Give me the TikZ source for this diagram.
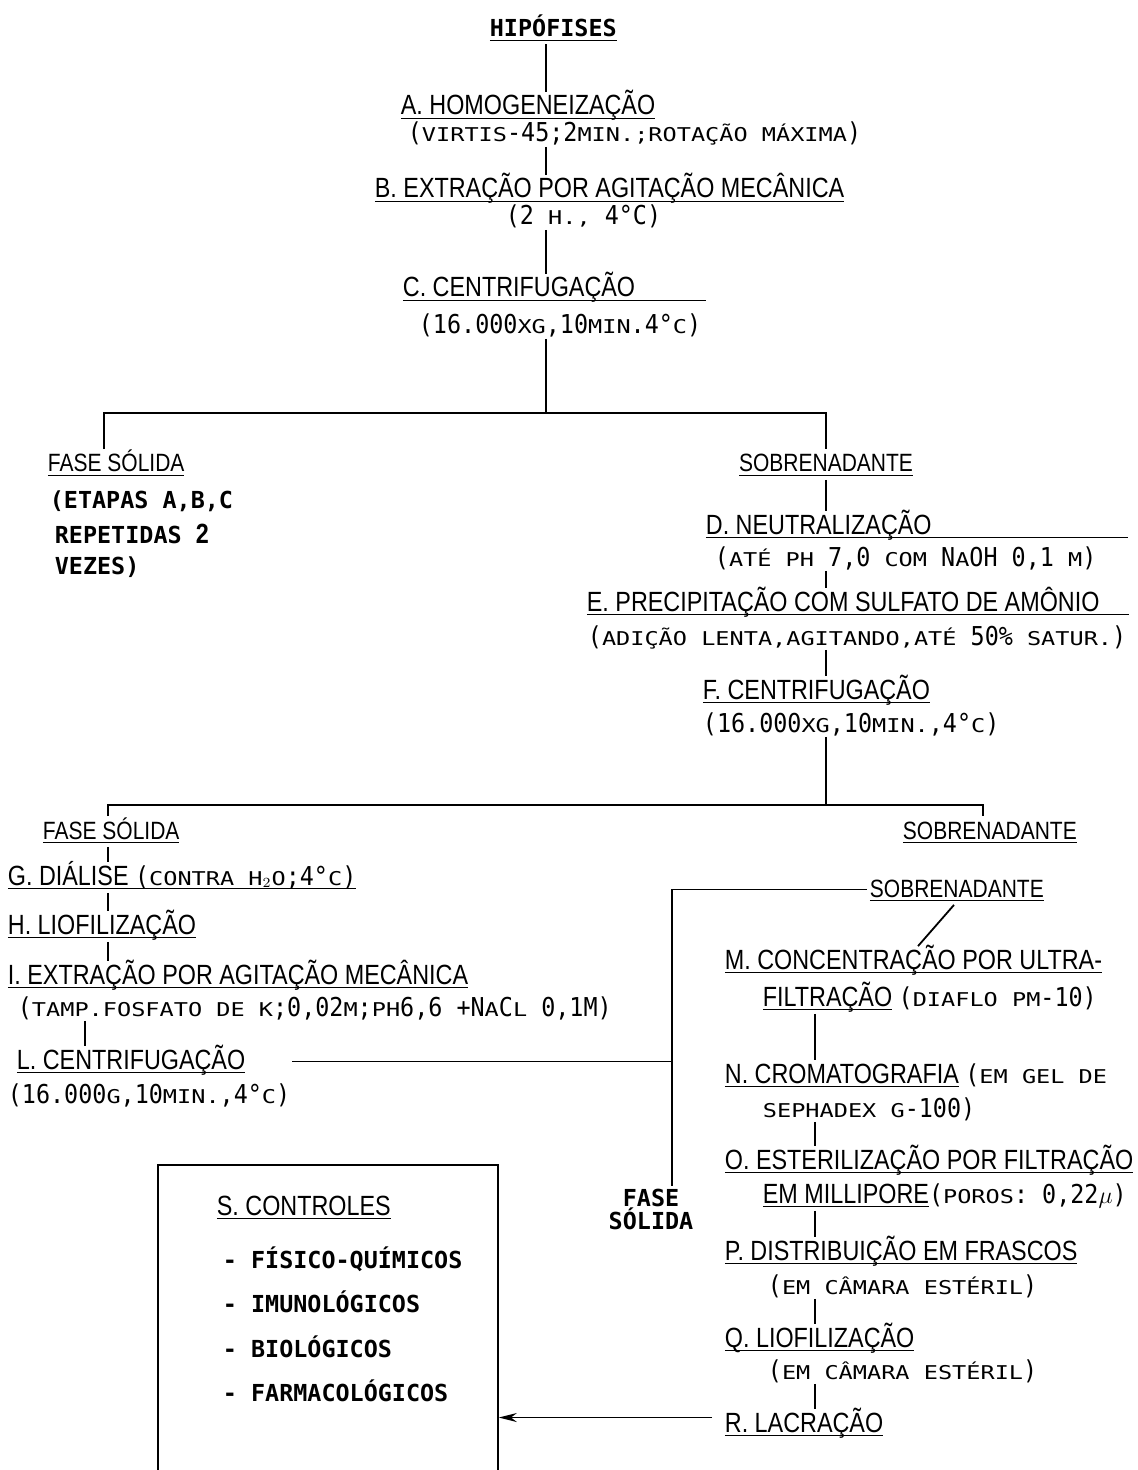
\documentclass[tikz,border=0pt]{standalone}
\usepackage{fontspec}
\usetikzlibrary{arrows.meta}
\newfontfamily\headfont[FakeStretch=0.84]{Liberation Sans}
\newfontfamily\notefont[FakeStretch=0.9]{DejaVu Sans Mono}
\newfontfamily\capsfont[FakeStretch=1.24]{DejaVu Sans Mono}
\newfontfamily\itemfont{DejaVu Sans Mono}
\newcommand\smc[1]{{\capsfont\fontsize{9.5}{11}\selectfont #1}}
\newcommand\nt[1]{{\notefont\fontsize{13}{16}\selectfont #1}}
\newcommand\hd[1]{{\headfont\fontsize{13.9}{16}\selectfont #1}}
\newsavebox\ulbox
\newcommand\und[1]{\sbox\ulbox{#1}\rlap{\rule[-2.2pt]{\wd\ulbox}{0.9pt}}\usebox\ulbox}
\newcommand\undw[2]{\sbox\ulbox{#2}\rlap{\rule[-2.2pt]{#1}{0.9pt}}\usebox\ulbox}

\tikzset{every picture/.style={line width=0.9pt}}
\tikzset{
  stage/.style={font=\headfont\fontsize{13.9}{16}\selectfont, inner sep=1pt, text height=10pt, text depth=2.5pt, anchor=base west},
  phase/.style={stage, font=\headfont\fontsize{12.5}{15}\selectfont},
  note/.style={stage, font=\notefont\fontsize{13}{16}\selectfont, text depth=1pt},
  item/.style={font=\itemfont\bfseries\fontsize{11.7}{14}\selectfont, inner sep=1pt, anchor=base west},
}

\begin{document}
\begin{tikzpicture}[x=0.5pt,y=0.5pt,yscale=-1,xscale=1]
\useasboundingbox (0,0) rectangle (1137,1470);

% Text Node
\node (hip) [item] at (487,37) {\und{HIPÓFISES}};
% Text Node
\node (stA) [stage] at (398,115) {\und{A. HOMOGENEIZAÇÃO}};
\node (ntA) [note] at (405,142) {(\smc{VIRTIS}-45;2\smc{MIN.;ROTAÇÃO MÁXIMA})};
% Text Node
\node (stB) [stage] at (372,198) {\und{B. EXTRAÇÃO POR AGITAÇÃO MECÂNICA}};
\node (ntB) [note] at (503,225) {(2 \smc{H.,} 4°C)};
% Text Node
\node (stC) [stage] at (400,297) {\undw{151.5pt}{C. CENTRIFUGAÇÃO}};
\node (ntC) [note] at (416,334) {(16.000\smc{XG},10\smc{MIN}.4°\smc{C})};

% Text Node
\node (solA) [phase] at (45,472) {\und{FASE SÓLIDA}};
\node (solAa) [item] at (47,508) {(ETAPAS A,B,C};
\node (solAb) [item] at (52,543) {REPETIDAS \hd{2}};
\node (solAc) [item] at (52,574) {VEZES)};
% Text Node
\node (supA) [phase, anchor=base] at (826,472) {\und{SOBRENADANTE}};

% Text Node
\node (stD) [stage] at (703,534) {\undw{211pt}{D. NEUTRALIZAÇÃO}};
\node (ntD) [note] at (712,566) {(\smc{ATÉ PH} 7,0 \smc{COM} N\smc{A}OH 0,1 \smc{M})};
% Text Node
\node (stE) [stage] at (584,611) {\undw{271pt}{E. PRECIPITAÇÃO COM SULFATO DE AMÔNIO}};
\node (ntE) [note] at (585,645) {(\smc{ADIÇÃO LENTA,AGITANDO,ATÉ} 50\% \smc{SATUR.})};
% Text Node
\node (stF) [stage] at (700,699) {\und{F. CENTRIFUGAÇÃO}};
\node (ntF) [note] at (700,732) {(16.000\smc{XG},10\smc{MIN.},4°\smc{C})};

% Text Node
\node (solB) [phase] at (40,839) {\und{FASE SÓLIDA}};
\node (supB) [phase] at (900,839) {\und{SOBRENADANTE}};
% Text Node
\node (stG) [stage] at (5,885) {\und{G. DIÁLISE \nt{(\smc{CONTRA H$_2$O};4°\smc{C})}}};
\node (stH) [stage] at (5,934) {\und{H. LIOFILIZAÇÃO}};
\node (stI) [stage] at (5,984) {\und{I. EXTRAÇÃO POR AGITAÇÃO MECÂNICA}};
\node (ntI) [note] at (15,1016) {(\smc{TAMP.FOSFATO DE K};0,02\smc{M};\smc{PH}6,6 +N\smc{A}C\smc{L} 0,1M)};
\node (stL) [stage] at (14,1069) {\und{L. CENTRIFUGAÇÃO}};
\node (ntL) [note] at (5,1103) {(16.000\smc{G},10\smc{MIN.},4°\smc{C})};

% Text Node
\node (supC) [phase] at (867,897) {\und{SOBRENADANTE}};
\node (stM) [stage] at (722,969) {\und{M. CONCENTRAÇÃO POR ULTRA-}};
\node (stM2) [stage] at (760,1006) {\und{FILTRAÇÃO} \nt{(\smc{DIAFLO PM}-10)}};
\node (stN) [stage] at (722,1083) {\und{N. CROMATOGRAFIA} \nt{(\smc{EM GEL DE}}};
\node (stN2) [note] at (760,1117) {\smc{SEPHADEX G}-100)};
\node (stO) [stage] at (722,1169) {\und{O. ESTERILIZAÇÃO POR FILTRAÇÃO}};
\node (stO2) [stage] at (760,1203) {\und{EM MILLIPORE}\nt{(\smc{POROS}: 0,22$\mu$)}};
\node (stP) [stage] at (722,1260) {\und{P. DISTRIBUIÇÃO EM FRASCOS}};
\node (ntP) [note] at (765,1294) {(\smc{EM CÂMARA ESTÉRIL})};
\node (stQ) [stage] at (722,1347) {\und{Q. LIOFILIZAÇÃO}};
\node (ntQ) [note] at (765,1379) {(\smc{EM CÂMARA ESTÉRIL})};
\node (stR) [stage] at (722,1432) {\und{R. LACRAÇÃO}};
% Text Node
\node (solC) [item, font=\itemfont\bfseries\fontsize{11.7}{11.5}\selectfont, align=center, anchor=north] at (651,1186) {FASE\\SÓLIDA};

%Shape: Rectangle
\node (ctrl) [draw, anchor=north west, inner sep=0pt, minimum width=170pt, minimum height=180pt] at (157,1164) {};
\node (stS) [stage] at (214,1215) {\und{S. CONTROLES}};
\node (ctA) [item] at (220,1268) {- FÍSICO-QUÍMICOS};
\node (ctB) [item] at (220,1312) {- IMUNOLÓGICOS};
\node (ctC) [item] at (220,1357) {- BIOLÓGICOS};
\node (ctD) [item] at (220,1401) {- FARMACOLÓGICOS};

%Straight Lines
\coordinate (trunk) at (546,0);
\draw (hip.south -| trunk) -- (stA.north -| trunk);
\draw (ntA.south -| trunk) -- (stB.north -| trunk);
\draw (ntB.south -| trunk) -- (stC.north -| trunk);
%Straight Lines
\coordinate (splitA) at (546,413);
\coordinate (leftA) at (104,413);
\coordinate (rightA) at (826,413);
\draw (ntC.south -| trunk) -- (splitA);
\draw (solA.north -| leftA) -- (leftA) -- (rightA) -- (supA.north -| rightA);
\draw (supA.south -| rightA) -- (stD.north -| rightA);
\draw (ntD.south -| rightA) -- (stE.north -| rightA);
\draw (ntE.south -| rightA) -- (stF.north -| rightA);
%Straight Lines
\coordinate (splitB) at (826,805);
\coordinate (leftB) at (108,805);
\coordinate (rightB) at (983,805);
\draw (ntF.south -| rightA) -- (splitB);
\draw (solB.north -| leftB) -- (leftB) -- (rightB) -- (supB.north -| rightB);
\draw (solB.south -| leftB) -- (stG.north -| leftB);
\draw (stG.south -| leftB) -- (stH.north -| leftB);
\draw (stH.south -| leftB) -- (stI.north -| leftB);
\coordinate (colL) at (85,0);
\draw (ntI.south -| colL) -- (stL.north -| colL);
%Straight Lines
\coordinate (vcol) at (672,0);
\coordinate (jointL) at (292,0);
\draw (supC.west) -- (supC.west -| vcol) -- (solC.north -| vcol);
\draw (stL.east -| jointL) -- (stL.east -| vcol);
\draw ([xshift=43.5pt]supC.south west) -- ([xshift=98pt]stM.north west);
\coordinate (colR) at (815,0);
\draw (stM2.south -| colR) -- (stN.north -| colR);
\draw (stN2.south -| colR) -- (stO.north -| colR);
\draw (stO2.south -| colR) -- (stP.north -| colR);
\draw (ntP.south -| colR) -- (stQ.north -| colR);
\draw (ntQ.south -| colR) -- (stR.north -| colR);
\path (stR.west) ++(-10,-7) coordinate (arrowR);
\draw [-{Stealth[length=9pt,width=4.5pt]}] (arrowR) -- (arrowR -| ctrl.east);

\end{tikzpicture}
\end{document}
